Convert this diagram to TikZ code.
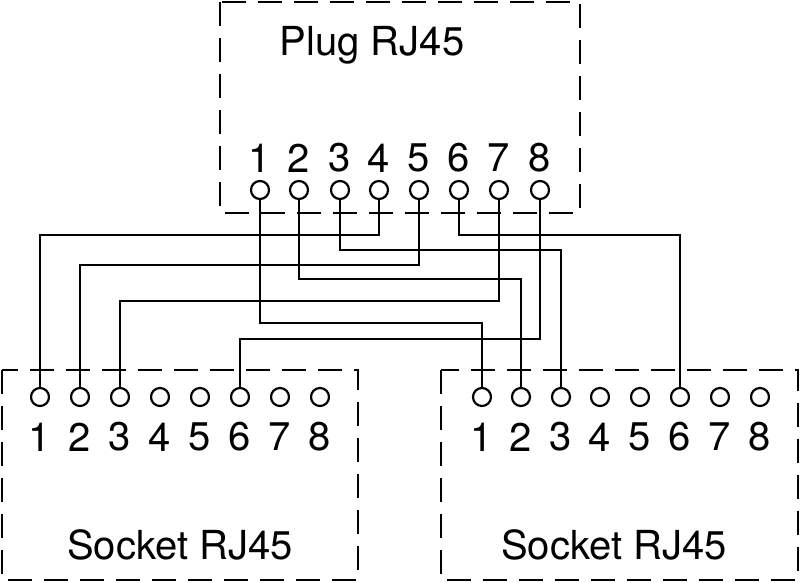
\documentclass[tikz,border=0pt]{standalone}
\usepackage{fontspec}
\setmainfont{TeX Gyre Heros}
\begin{document}
\begin{tikzpicture}[x=1pt,y=-1pt,
  box/.style={draw,line width=2.4pt,dash pattern=on 24pt off 12pt},
  pin/.style={circle,draw,line width=2.2pt,minimum size=18pt,inner sep=0pt,fill=white},
  lab/.style={font=\fontsize{40}{42}\selectfont,inner sep=0pt},
  wire/.style={line width=2.2pt}]
\useasboundingbox (0,0) rectangle (800,582);
\draw[box] (220,2) rectangle (580,213);
\draw[box] (2,370) rectangle (358,580);
\draw[box] (441,370) rectangle (798,580);
\node[lab] (pt) at (372,45) {Plug RJ45};
\node[lab] (lt) at (180,545) {Socket RJ45};
\node[lab] (rt) at (614,545) {Socket RJ45};
\foreach \i/\x in {1/260,2/299,3/340,4/379,5/419,6/459,7/499,8/540}{
  \coordinate (p\i) at (\x,190);
  \node[lab] at (\x,158) {\i};}
\foreach \i/\x in {1/40,2/80,3/120,4/160,5/200,6/240,7/280,8/320}{
  \coordinate (l\i) at (\x,397);
  \node[lab] at (\x,437) {\i};}
\foreach \i/\x in {1/482,2/521,3/561,4/600,5/640,6/680,7/720,8/760}{
  \coordinate (r\i) at (\x,397);
  \node[lab] at (\x,437) {\i};}
\draw[wire] (p4) |- (40,235) -- (l1);
\draw[wire] (p6) |- (680,235) -- (r6);
\draw[wire] (p3) |- (561,250) -- (r3);
\draw[wire] (p5) |- (80,265) -- (l2);
\draw[wire] (p2) |- (521,279) -- (r2);
\draw[wire] (p7) |- (120,301) -- (l3);
\draw[wire] (p1) |- (482,323) -- (r1);
\draw[wire] (p8) |- (240,339) -- (l6);
\foreach \i in {1,...,8}{
  \node[pin] at (p\i) {};
  \node[pin] at (l\i) {};
  \node[pin] at (r\i) {};}
\end{tikzpicture}
\end{document}
